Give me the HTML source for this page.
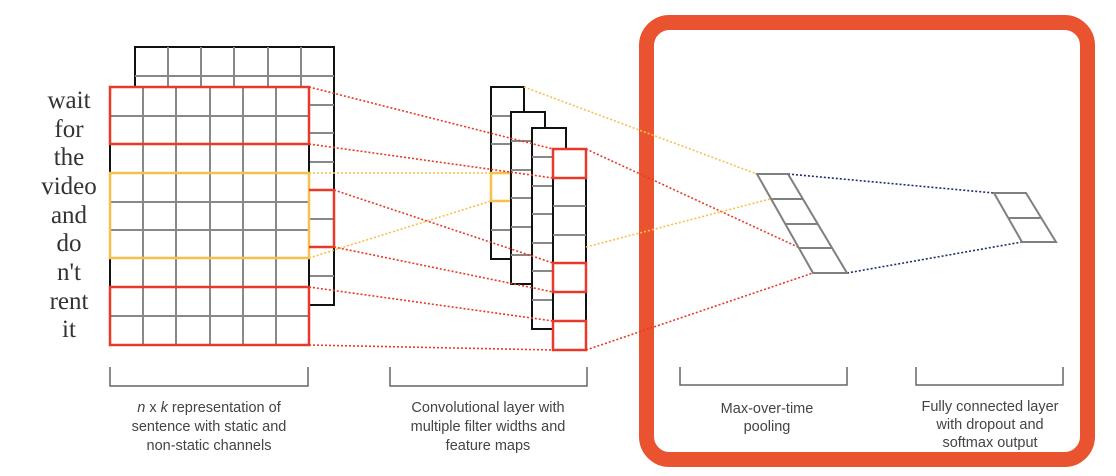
<!DOCTYPE html>
<html><head><meta charset="utf-8"><style>
html,body{margin:0;padding:0;background:#fff;width:1116px;height:476px;overflow:hidden}
svg{display:block}
</style></head><body>
<svg width="1116" height="476" viewBox="0 0 1116 476" xmlns="http://www.w3.org/2000/svg">
<rect x="646.5" y="22.5" width="441" height="437" rx="23" ry="23" fill="none" stroke="#e9532f" stroke-width="15"/>

<!-- back grid -->
<rect x="135" y="47" width="199" height="258" fill="#fff" stroke="#111" stroke-width="2"/>
<g stroke="#888" stroke-width="2">
<line x1="168" y1="47" x2="168" y2="87"/><line x1="201" y1="47" x2="201" y2="87"/><line x1="234" y1="47" x2="234" y2="87"/><line x1="268" y1="47" x2="268" y2="87"/><line x1="301" y1="47" x2="301" y2="87"/>
<line x1="135" y1="76" x2="334" y2="76"/>
<line x1="309" y1="105" x2="334" y2="105"/><line x1="309" y1="133" x2="334" y2="133"/><line x1="309" y1="162" x2="334" y2="162"/><line x1="309" y1="190" x2="334" y2="190"/><line x1="309" y1="219" x2="334" y2="219"/><line x1="309" y1="247" x2="334" y2="247"/><line x1="309" y1="276" x2="334" y2="276"/>
</g>
<!-- front grid -->
<rect x="110" y="87" width="199" height="258" fill="#fff" stroke="#111" stroke-width="2"/>
<g stroke="#888" stroke-width="2">
<line x1="143" y1="87" x2="143" y2="345"/><line x1="176" y1="87" x2="176" y2="345"/><line x1="210" y1="87" x2="210" y2="345"/><line x1="243" y1="87" x2="243" y2="345"/><line x1="276" y1="87" x2="276" y2="345"/>
<line x1="110" y1="116" x2="309" y2="116"/><line x1="110" y1="144" x2="309" y2="144"/><line x1="110" y1="173" x2="309" y2="173"/><line x1="110" y1="202" x2="309" y2="202"/><line x1="110" y1="230" x2="309" y2="230"/><line x1="110" y1="258" x2="309" y2="258"/><line x1="110" y1="287" x2="309" y2="287"/><line x1="110" y1="316" x2="309" y2="316"/>
</g>
<rect x="110" y="87" width="199" height="57" fill="none" stroke="#e8392a" stroke-width="2.5"/>
<rect x="110" y="287" width="199" height="58" fill="none" stroke="#e8392a" stroke-width="2.5"/>
<rect x="110" y="173" width="199" height="85" fill="none" stroke="#f7c04a" stroke-width="2.5"/>
<polyline points="309,190 334,190 334,247 309,247" fill="none" stroke="#e8392a" stroke-width="2.5"/>

<!-- words -->
<g font-family="Liberation Serif, serif" font-size="25" fill="#333" text-anchor="middle">
<text x="69" y="108">wait</text><text x="69" y="137">for</text><text x="69" y="165">the</text><text x="69" y="194">video</text><text x="69" y="223">and</text><text x="69" y="251">do</text><text x="69" y="280">n't</text><text x="69" y="309">rent</text><text x="69" y="337">it</text>
</g>

<!-- conv columns -->
<g stroke-width="2">
<rect x="491" y="87" width="33" height="172" fill="#fff" stroke="#111"/>
<g stroke="#888"><line x1="491" y1="116" x2="524" y2="116"/><line x1="491" y1="144" x2="524" y2="144"/><line x1="491" y1="230" x2="524" y2="230"/></g>
<rect x="491" y="173" width="20" height="28" fill="none" stroke="#f7c04a" stroke-width="2.5"/>
<rect x="511" y="112" width="34" height="172" fill="#fff" stroke="#111"/>
<g stroke="#888"><line x1="511" y1="141" x2="545" y2="141"/><line x1="511" y1="170" x2="545" y2="170"/><line x1="511" y1="198" x2="545" y2="198"/><line x1="511" y1="227" x2="545" y2="227"/><line x1="511" y1="255" x2="545" y2="255"/></g>
<rect x="532" y="128" width="34" height="201" fill="#fff" stroke="#111"/>
<g stroke="#888"><line x1="532" y1="157" x2="566" y2="157"/><line x1="532" y1="186" x2="566" y2="186"/><line x1="532" y1="214" x2="566" y2="214"/><line x1="532" y1="243" x2="566" y2="243"/><line x1="532" y1="271" x2="566" y2="271"/><line x1="532" y1="300" x2="566" y2="300"/></g>
<rect x="553" y="149" width="33" height="201" fill="#fff" stroke="#111"/>
<g stroke="#888"><line x1="553" y1="206" x2="586" y2="206"/><line x1="553" y1="235" x2="586" y2="235"/></g>
</g>
<g fill="none" stroke="#e8392a" stroke-width="2.5">
<rect x="553" y="149" width="33" height="29"/><rect x="553" y="263" width="33" height="29"/><rect x="553" y="321" width="33" height="29"/>
</g>

<!-- dotted connectors -->
<g fill="none" stroke-width="1.6" stroke-dasharray="2 2">
<g stroke="#e8392a">
<line x1="309" y1="87" x2="553" y2="149"/><line x1="309" y1="144" x2="553" y2="178"/>
<line x1="334" y1="190" x2="553" y2="263"/><line x1="334" y1="247" x2="553" y2="292"/>
<line x1="309" y1="287" x2="553" y2="321"/><line x1="309" y1="345" x2="553" y2="350"/>
<line x1="586" y1="149" x2="800" y2="248"/><line x1="586" y1="350" x2="813" y2="273"/>
</g>
<g stroke="#f7c04a">
<line x1="309" y1="173" x2="491" y2="173"/><line x1="309" y1="258" x2="491" y2="201"/>
<line x1="524" y1="87" x2="757" y2="174"/><line x1="586" y1="247" x2="770" y2="199"/>
</g>
<g stroke="#1f2d6b">
<line x1="788" y1="174" x2="994" y2="193"/><line x1="847" y1="273" x2="1022" y2="242"/>
</g>
</g>

<!-- pooling -->
<g stroke="#808080" stroke-width="2" fill="none">
<polygon points="757,174 788,174 847,273 813,273"/>
<line x1="771" y1="199" x2="803" y2="199"/><line x1="785" y1="224" x2="818" y2="224"/><line x1="799" y1="248" x2="832" y2="248"/>
<polygon points="994,193 1026,193 1056,242 1022,242"/>
<line x1="1008" y1="218" x2="1041" y2="218"/>
</g>

<!-- brackets -->
<g fill="none" stroke="#666" stroke-width="1.5">
<polyline points="110,367 110,386 308,386 308,367"/>
<polyline points="390,367 390,386 587,386 587,367"/>
<polyline points="680,367 680,385 847,385 847,367"/>
<polyline points="916,367 916,385 1063,385 1063,367"/>
</g>
<g font-family="Liberation Sans, sans-serif" font-size="14.5" fill="#444" text-anchor="middle">
<text x="209" y="412"><tspan font-style="italic">n</tspan> x <tspan font-style="italic">k</tspan> representation of</text>
<text x="209" y="431">sentence with static and</text>
<text x="209" y="450">non-static channels</text>
<text x="488" y="412">Convolutional layer with</text>
<text x="488" y="431">multiple filter widths and</text>
<text x="488" y="450">feature maps</text>
<text x="767" y="413">Max-over-time</text>
<text x="767" y="431">pooling</text>
<text x="990" y="411">Fully connected layer</text>
<text x="990" y="429">with dropout and</text>
<text x="990" y="447">softmax output</text>
</g>
</svg>
</body></html>
